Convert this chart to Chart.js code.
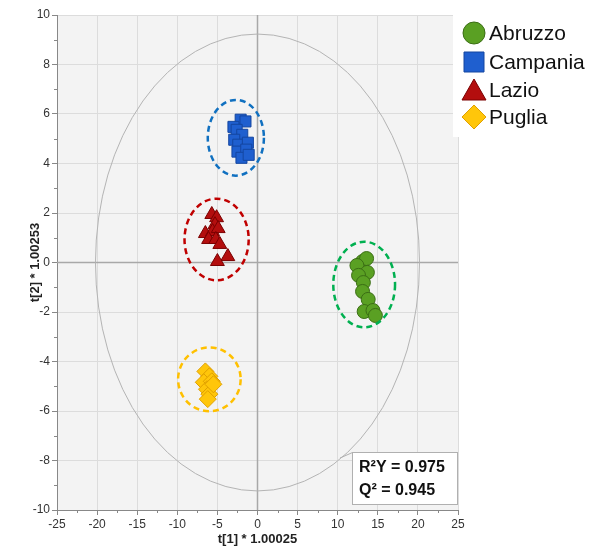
<!DOCTYPE html>
<html><head><meta charset="utf-8">
<script src="https://cdn.jsdelivr.net/npm/chart.js@4.4.1/dist/chart.umd.min.js"></script>
<style>html,body{margin:0;padding:0;background:#fff}#wrap{width:601px;height:550px}</style>
</head><body><div id="wrap"><canvas id="c" width="601" height="550"></canvas></div>
<script>
// ---- data (t[1], t[2]) ----
const seriesNames = ['Abruzzo', 'Campania', 'Lazio', 'Puglia'];
const abruzzoX = [13.1, 13.6, 12.4, 13.7, 12.6, 13.2, 13.1, 13.8, 13.3, 14.4, 14.7];
const abruzzoY = [0.04, 0.16, -0.12, -0.40, -0.52, -0.81, -1.17, -1.49, -1.98, -1.94, -2.14];
const campaniaX = [-2.1, -1.5, -3.0, -2.6, -1.9, -2.9, -2.4, -1.2, -2.5, -1.4, -2.0, -1.1];
const campaniaY = [5.77, 5.70, 5.48, 5.36, 5.16, 4.96, 4.76, 4.84, 4.48, 4.56, 4.23, 4.35];
const lazioX = [-5.7, -5.1, -5.3, -6.5, -5.6, -4.9, -6.1, -5.2, -4.7, -3.7, -5.0];
const lazioY = [1.94, 1.81, 1.53, 1.17, 1.25, 1.37, 0.93, 0.93, 0.73, 0.24, 0.04];
const pugliaX = [-6.5, -6.0, -6.7, -5.7, -6.3, -6.0, -6.2, -5.5];
const pugliaY = [-4.40, -4.60, -4.84, -4.80, -5.12, -5.32, -5.52, -4.92];
// group ellipses: centerX, centerY, radiusX, radiusY
const groupCX = [13.3, -2.7, -5.1, -6.0];
const groupCY = [-0.89, 5.04, 0.93, -4.72];
const groupRX = [3.85, 3.5, 4.0, 3.9];
const groupRY = [1.73, 1.53, 1.65, 1.29];
// Hotelling T2 ellipse radii
const hotellingRX = 20.2;
const hotellingRY = 9.23;
const xTicks = [-25, -20, -15, -10, -5, 0, 5, 10, 15, 20, 25];
const yTicks = [-10, -8, -6, -4, -2, 0, 2, 4, 6, 8, 10];
const statLines = ['R\u00B2Y = 0.975', 'Q\u00B2 = 0.945'];

const fills = ['#5aa023', '#1f5fcf', '#b30e0e', '#ffc60a'];
const borders = ['#3b6e15', '#1446a0', '#7a0000', '#e0a000'];
const dashColors = ['#00b050', '#1070c0', '#c00000', '#ffc000'];
const styles = ['circle', 'rect', 'triangle', 'rectRot'];
const radii = [7, 7.8, 8, 8.5];

function pts(xs, ys) { return xs.map((x, i) => ({x: x, y: ys[i]})); }
const allX = [abruzzoX, campaniaX, lazioX, pugliaX];
const allY = [abruzzoY, campaniaY, lazioY, pugliaY];

const datasets = seriesNames.map((n, i) => ({
  label: n, data: pts(allX[i], allY[i]),
  pointStyle: styles[i], pointRadius: radii[i], pointHoverRadius: radii[i],
  backgroundColor: fills[i], borderColor: borders[i], borderWidth: 1
}));

const FONT = "'Liberation Sans', Arial, sans-serif";

const decor = {
  id: 'decor',
  beforeDraw(chart) {
    const {ctx, chartArea: a} = chart;
    ctx.save();
    ctx.fillStyle = '#f3f3f3';
    ctx.fillRect(a.left, a.top, a.right - a.left, a.bottom - a.top);
    ctx.restore();
  },
  beforeDatasetsDraw(chart) {
    const {ctx, chartArea: a, scales: {x, y}} = chart;
    ctx.save();
    ctx.strokeStyle = '#a8a8a8'; ctx.lineWidth = 1.5;
    const x0 = x.getPixelForValue(0), y0 = y.getPixelForValue(0);
    ctx.beginPath(); ctx.moveTo(x0, a.top); ctx.lineTo(x0, a.bottom); ctx.stroke();
    ctx.beginPath(); ctx.moveTo(a.left, y0); ctx.lineTo(a.right, y0); ctx.stroke();
    ctx.strokeStyle = '#b4b4b4'; ctx.lineWidth = 1;
    ctx.beginPath();
    ctx.ellipse(x0, y0, Math.abs(x.getPixelForValue(hotellingRX) - x0), Math.abs(y.getPixelForValue(hotellingRY) - y0), 0, 0, Math.PI * 2);
    ctx.stroke();
    ctx.strokeStyle = '#888'; ctx.lineWidth = 1;
    for (let v = -25; v <= 25; v += 2.5) {
      if (v % 5 === 0) continue;
      const px = Math.round(x.getPixelForValue(v)) + 0.5;
      ctx.beginPath(); ctx.moveTo(px, a.bottom); ctx.lineTo(px, a.bottom + 3); ctx.stroke();
    }
    for (let v = -9; v <= 9; v += 2) {
      const py = Math.round(y.getPixelForValue(v)) + 0.5;
      ctx.beginPath(); ctx.moveTo(a.left, py); ctx.lineTo(a.left - 3, py); ctx.stroke();
    }
    ctx.restore();
  },
  afterDatasetsDraw(chart) {
    const {ctx, scales: {x, y}} = chart;
    ctx.save();
    ctx.lineWidth = 2.5; ctx.setLineDash([6, 4]);
    for (let i = 0; i < groupCX.length; i++) {
      const cx = x.getPixelForValue(groupCX[i]), cy = y.getPixelForValue(groupCY[i]);
      const rx = Math.abs(x.getPixelForValue(groupCX[i] + groupRX[i]) - cx);
      const ry = Math.abs(y.getPixelForValue(groupCY[i] + groupRY[i]) - cy);
      ctx.strokeStyle = dashColors[i];
      ctx.beginPath(); ctx.ellipse(cx, cy, rx, ry, 0, 0, Math.PI * 2); ctx.stroke();
    }
    ctx.restore();
  },
  afterDraw(chart) {
    const {ctx} = chart;
    ctx.save();
    ctx.fillStyle = '#ffffff';
    ctx.fillRect(453, 0, 148, 137);
    const rowY = [33, 62, 90, 117];
    ctx.font = '21px ' + FONT; ctx.textBaseline = 'middle';
    for (let i = 0; i < seriesNames.length; i++) {
      const cx = 474, cy = rowY[i];
      ctx.fillStyle = fills[i]; ctx.strokeStyle = borders[i]; ctx.lineWidth = 1;
      ctx.beginPath();
      if (i === 0) ctx.arc(cx, cy, 11, 0, Math.PI * 2);
      else if (i === 1) ctx.rect(cx - 10, cy - 10, 20, 20);
      else if (i === 2) { ctx.moveTo(cx, cy - 11); ctx.lineTo(cx + 12, cy + 10); ctx.lineTo(cx - 12, cy + 10); ctx.closePath(); }
      else { ctx.moveTo(cx, cy - 12); ctx.lineTo(cx + 12, cy); ctx.lineTo(cx, cy + 12); ctx.lineTo(cx - 12, cy); ctx.closePath(); }
      ctx.fill(); ctx.stroke();
      ctx.fillStyle = '#111';
      ctx.fillText(seriesNames[i], 489, cy + 1);
    }
    // stats box
    ctx.strokeStyle = '#b0b0b0'; ctx.lineWidth = 1;
    ctx.beginPath(); ctx.moveTo(340, 458); ctx.lineTo(352.5, 452.5); ctx.stroke();
    ctx.fillStyle = '#ffffff';
    ctx.fillRect(352.5, 452.5, 105, 52); ctx.strokeRect(352.5, 452.5, 105, 52);
    ctx.fillStyle = '#111'; ctx.font = 'bold 16px ' + FONT; ctx.textBaseline = 'middle';
    ctx.fillText(statLines[0], 359, 468);
    ctx.fillText(statLines[1], 359, 491);
    ctx.restore();
  }
};

new Chart(document.getElementById('c'), {
  type: 'scatter',
  data: {datasets},
  options: {
    responsive: false, animation: false,
    layout: {padding: {left: 0, right: 143, top: 15, bottom: 0}},
    plugins: {legend: {display: false}, tooltip: {enabled: false}},
    scales: {
      x: {
        type: 'linear', min: -25, max: 25,
        afterBuildTicks: s => { s.ticks = xTicks.map(v => ({value: v})); },
        afterFit: s => { s.height = 40; },
        ticks: {font: {family: FONT, size: 12}, color: '#333', padding: 2, maxRotation: 0, autoSkip: false},
        grid: {color: '#dcdcdc', tickColor: '#888', tickLength: 5, lineWidth: 1},
        border: {color: '#888'},
        title: {display: true, text: 't[1] * 1.00025', font: {family: FONT, size: 13, weight: 'bold'}, color: '#222', padding: {top: 0, bottom: 3}}
      },
      y: {
        type: 'linear', min: -10, max: 10,
        afterBuildTicks: s => { s.ticks = yTicks.map(v => ({value: v})); },
        afterFit: s => { s.width = 57; },
        ticks: {font: {family: FONT, size: 12}, color: '#333', padding: 2, autoSkip: false},
        grid: {color: '#dcdcdc', tickColor: '#888', tickLength: 5, lineWidth: 1},
        border: {color: '#888'},
        title: {display: true, text: 't[2] * 1.00253', font: {family: FONT, size: 13, weight: 'bold'}, color: '#222', padding: {top: 28, bottom: 0}}
      }
    }
  },
  plugins: [decor]
});
</script></body></html>
